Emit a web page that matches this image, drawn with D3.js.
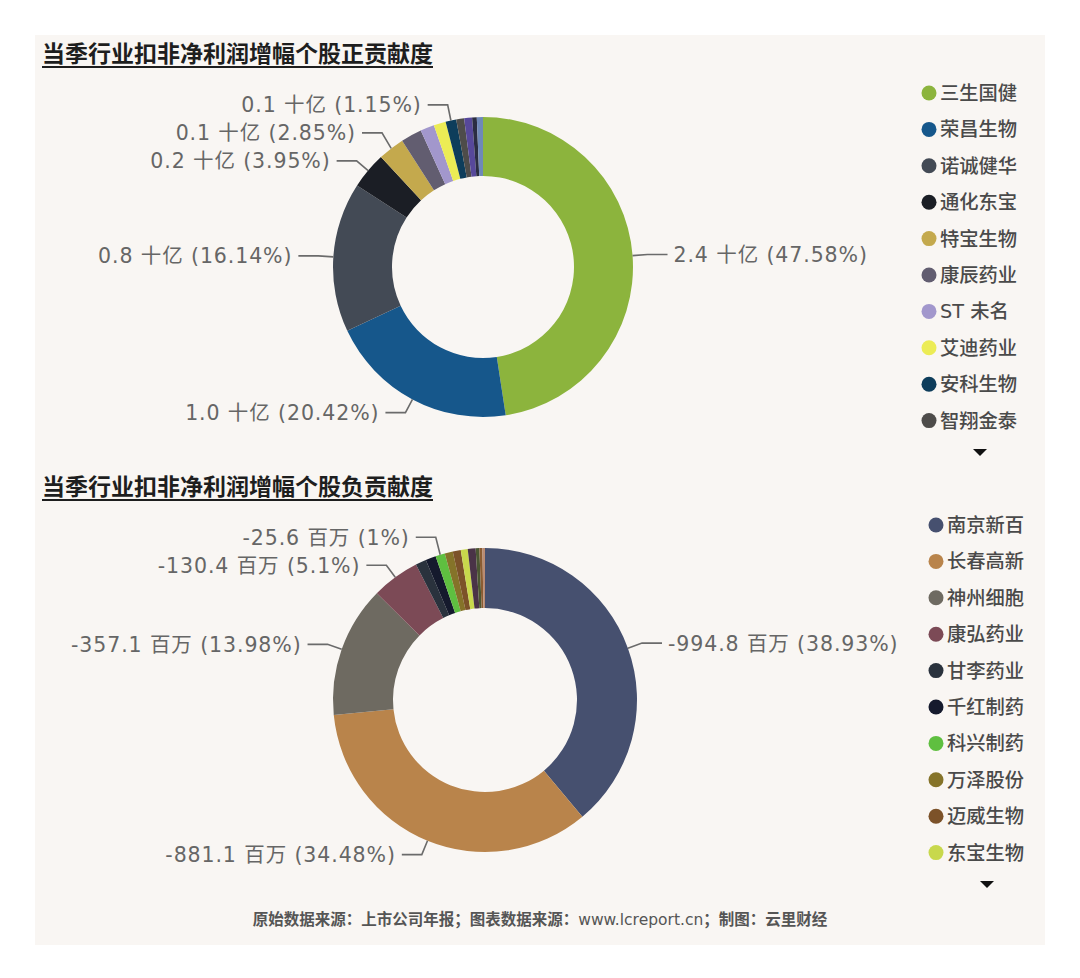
<!DOCTYPE html>
<html lang="zh">
<head>
<meta charset="utf-8">
<script src="https://cdnjs.cloudflare.com/ajax/libs/d3/7.8.5/d3.min.js"></script>
<style>
body { margin: 0; background: #ffffff; }
</style>
</head>
<body>
<div id="container"></div>
<script>
    var w = 1080;
    var h = 978;

    // 正贡献 (单位: 百万元)
    var posNames = ["三生国健", "荣昌生物", "诺诚健华", "通化东宝", "特宝生物", "康辰药业",
                    "ST 未名", "艾迪药业", "安科生物", "智翔金泰", "其他A", "其他B", "其他C"];
    var posValues = [2398.0, 1029.2, 813.5, 199.1, 143.6, 113.4, 75.6, 65.5, 58.0, 42.8, 42.8, 25.2, 33.3];
    var posLabelled = ["三生国健", "荣昌生物", "诺诚健华", "通化东宝", "特宝生物", "安科生物"];

    // 负贡献 (单位: 百万元)
    var negNames = ["南京新百", "长春高新", "神州细胞", "康弘药业", "甘李药业", "千红制药",
                    "科兴制药", "万泽股份", "迈威生物", "东宝生物", "其他D", "其他E", "其他F", "其他G"];
    var negValues = [-994.8, -881.1, -357.1, -130.4, -29.0, -28.2, -25.6, -22.0, -21.7, -18.8, -21.3, -10.0, -8.2, -6.9];
    var negLabelled = ["南京新百", "长春高新", "神州细胞", "康弘药业", "科兴制药"];

    var posColors = ["#8cb43d", "#16578b", "#434a55", "#1b1e25", "#c4a94d", "#625d70",
                     "#a297cc", "#ecec55", "#0e3d5b", "#4e4c4a", "#57489a", "#2b2d42", "#6f88b8"];
    var negColors = ["#46506f", "#b9844b", "#6e6a61", "#7c4a56", "#2a323d", "#151a2d",
                     "#5fbf40", "#857329", "#7c5229", "#c8d84c", "#4a3347", "#4b5632", "#8a5c32", "#b98b72"];

    var labelFont = "'DejaVu Sans', 'Noto Sans CJK SC', sans-serif";
    var cjkFont = "'Noto Sans CJK SC', 'DejaVu Sans', sans-serif";

    var svg = d3.select("#container")
                .append("svg")
                .attr("width", w)
                .attr("height", h);

    svg.append("rect")
        .attr("x", 35).attr("y", 35)
        .attr("width", 1010).attr("height", 910)
        .attr("fill", "#f9f6f3");

    function pct(v, total) {
        return String(Math.round(Math.abs(v) / total * 10000) / 100);
    }

    function drawDonut(opt) {
        var data = opt.names.map(function(n, i) {
            return { name: n, value: opt.values[i], color: opt.colors[i] };
        });
        var total = d3.sum(data, function(d) { return Math.abs(d.value); });

        // title
        var t = svg.append("text")
            .attr("x", 42).attr("y", opt.titleY)
            .attr("font-family", cjkFont)
            .attr("font-weight", "bold")
            .attr("font-size", 23)
            .attr("fill", "#1e1e1e")
            .text(opt.title);
        var tw = t.node().getComputedTextLength();
        svg.append("line")
            .attr("x1", 42).attr("x2", 42 + tw)
            .attr("y1", opt.titleY + 5).attr("y2", opt.titleY + 5)
            .attr("stroke", "#1e1e1e").attr("stroke-width", 2.2);

        var pie = d3.pie().sort(null).value(function(d) { return Math.abs(d.value); });
        var arcs = pie(data);
        var arc = d3.arc().innerRadius(opt.r0).outerRadius(opt.r1);

        var g = svg.append("g").attr("transform", "translate(" + opt.cx + "," + opt.cy + ")");
        g.selectAll("path")
            .data(arcs)
            .enter()
            .append("path")
            .attr("d", arc)
            .attr("fill", function(d) { return d.data.color; });

        // labels
        var labs = arcs.filter(function(d) { return opt.labelled.indexOf(d.data.name) >= 0; })
            .map(function(d) {
                var a = (d.startAngle + d.endAngle) / 2;
                return {
                    d: d,
                    right: Math.sin(a) >= 0,
                    ax: Math.sin(a) * opt.r1, ay: -Math.cos(a) * opt.r1,
                    bx: Math.sin(a) * (opt.r1 + 15), by: -Math.cos(a) * (opt.r1 + 15)
                };
            });
        [true, false].forEach(function(side) {
            var s = labs.filter(function(l) { return l.right === side; })
                        .sort(function(a, b) { return a.by - b.by; });
            for (var i = s.length - 2; i >= 0; i--) {
                if (s[i].by > s[i + 1].by - 28) s[i].by = s[i + 1].by - 28;
            }
        });

        labs.forEach(function(l) {
            var dir = l.right ? 1 : -1;
            var cx2 = l.bx + dir * 20;
            g.append("polyline")
                .attr("points", [[l.ax, l.ay], [l.bx, l.by], [cx2, l.by]].join(" "))
                .attr("fill", "none")
                .attr("stroke", "#6b6b6b")
                .attr("stroke-width", 1.6);
            g.append("text")
                .attr("x", cx2 + dir * 6)
                .attr("y", l.by)
                .attr("dy", "0.36em")
                .attr("text-anchor", l.right ? "start" : "end")
                .attr("font-family", labelFont)
                .attr("font-size", 20.5)
                .attr("letter-spacing", 0.9)
                .attr("fill", "#666666")
                .text(opt.fmt(l.d.data.value) + " " + opt.unit + " (" + pct(l.d.data.value, total) + "%)");
        });

        // legend (first page only)
        var lg = svg.append("g");
        var items = lg.selectAll("g.item")
            .data(data.slice(0, 10))
            .enter()
            .append("g")
            .attr("transform", function(d, i) {
                return "translate(" + opt.legendX + "," + (opt.legendY + i * 36.4) + ")";
            });
        items.append("circle")
            .attr("r", 7.5)
            .attr("fill", function(d) { return d.color; });
        items.append("text")
            .attr("x", 11)
            .attr("dy", "0.36em")
            .attr("font-family", labelFont)
            .attr("font-size", 19.3)
            .attr("font-weight", 500)
            .attr("fill", "#4a4a4a")
            .text(function(d) { return d.name; });

        var ax = opt.legendX + 51, ay = opt.legendY + 10 * 36.4 - 8;
        lg.append("path")
            .attr("d", "M" + (ax - 7) + "," + ay + "L" + (ax + 7) + "," + ay + "L" + ax + "," + (ay + 7) + "Z")
            .attr("fill", "#111111");
    }

    drawDonut({
        title: "当季行业扣非净利润增幅个股正贡献度", titleY: 62,
        names: posNames, values: posValues, colors: posColors, labelled: posLabelled,
        cx: 483, cy: 267, r0: 91, r1: 150,
        unit: "十亿", fmt: function(v) { return (v / 1000).toFixed(1); },
        legendX: 929, legendY: 93
    });

    drawDonut({
        title: "当季行业扣非净利润增幅个股负贡献度", titleY: 495,
        names: negNames, values: negValues, colors: negColors, labelled: negLabelled,
        cx: 485, cy: 700, r0: 92, r1: 152,
        unit: "百万", fmt: function(v) { return v.toFixed(1); },
        legendX: 936, legendY: 525
    });

    var foot = svg.append("text")
        .attr("x", 540).attr("y", 925)
        .attr("text-anchor", "middle")
        .attr("font-family", cjkFont)
        .attr("font-weight", "bold")
        .attr("font-size", 15.5)
        .attr("fill", "#555555");
    foot.append("tspan").text("原始数据来源：上市公司年报；图表数据来源：");
    foot.append("tspan").attr("font-weight", "normal").attr("font-family", labelFont).text("www.lcreport.cn");
    foot.append("tspan").text("；制图：云里财经");
</script>
</body>
</html>
